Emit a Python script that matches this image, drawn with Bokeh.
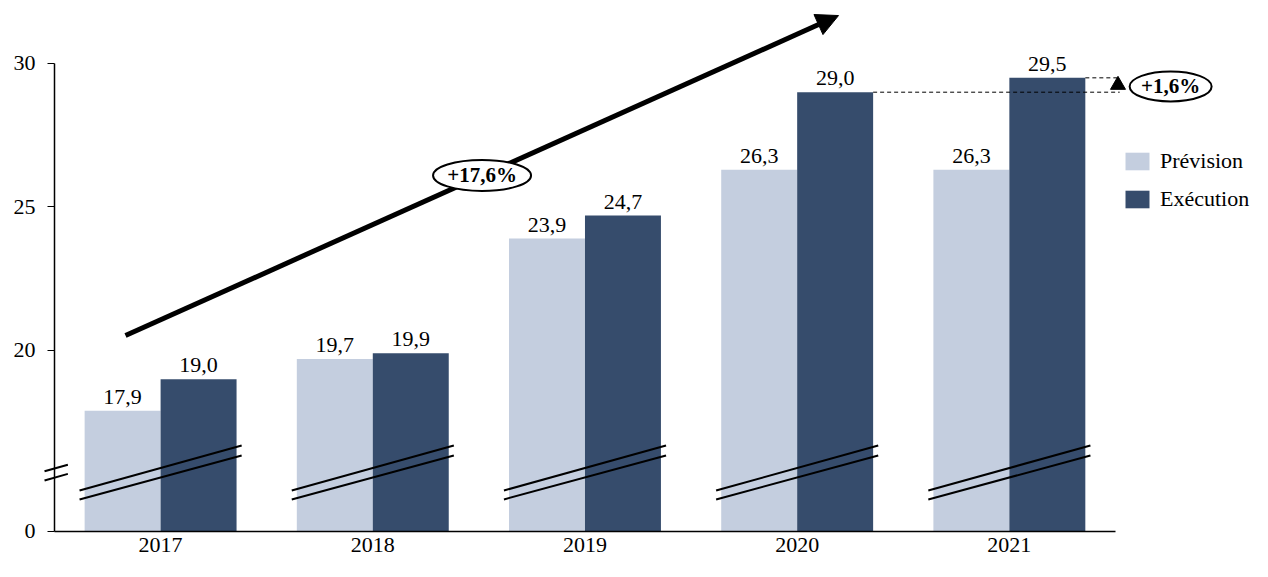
from bokeh.plotting import figure
from bokeh.models import FixedTicker, Arrow, NormalHead, ColumnDataSource
from bokeh.core.properties import value
from bokeh.embed import file_html
from bokeh.resources import INLINE

years = ["2017", "2018", "2019", "2020", "2021"]
prevision = [17.9, 19.7, 23.9, 26.3, 26.3]
execution = [19.0, 19.9, 24.7, 29.0, 29.5]
y_ticks = [20, 25, 30]
growth_label = "+17,6%"
last_label = "+1,6%"

FONT = "Liberation Serif"
C_PREV = "#C4CEDF"
C_EXEC = "#364C6C"
BASE = 13.7          # axis break: bottom of axis shown as "0"
BW = 0.358           # bar width (category units)

def fmt(v):
    return f"{v:.1f}".replace(".", ",")

n = len(years)
centers = [i + 0.5 for i in range(n)]
x_prev = [c - BW / 2 for c in centers]
x_exec = [c + BW / 2 for c in centers]

# both axes are drawn inside the frame (fixed_location) so that the
# axis-break marks and tick labels have room around them
p = figure(width=1262, height=569, x_range=(-0.2545, 5.693), y_range=(12.369, 31.916),
           output_backend="svg", toolbar_location=None,
           min_border_left=0, min_border_right=0, min_border_top=8, min_border_bottom=0)
p.outline_line_color = None
p.grid.visible = False
p.background_fill_color = "white"

# trend arrow (drawn beneath everything else)
arrow = Arrow(end=NormalHead(size=22, fill_color="black", line_color="black"),
              x_start=0.3346, y_start=20.52, x_end=3.695, y_end=31.67,
              line_width=5, line_color="black", level="underlay")
p.add_layout(arrow)

src_p = ColumnDataSource(dict(x=x_prev, top=prevision, lab=[fmt(v) for v in prevision]))
src_e = ColumnDataSource(dict(x=x_exec, top=execution, lab=[fmt(v) for v in execution]))

p.vbar(x="x", top="top", bottom=BASE, width=BW, source=src_p, fill_color=C_PREV,
       line_color=None, legend_label="Prévision")
p.vbar(x="x", top="top", bottom=BASE, width=BW, source=src_e, fill_color=C_EXEC,
       line_color=None, legend_label="Exécution")

for src in (src_p, src_e):
    p.text(x="x", y="top", text="lab", source=src, text_align="center",
           text_baseline="bottom", y_offset=-7, text_font=value(FONT),
           text_font_size="22px", text_color="black")

# break marks over bars and on the axis
hx = 0.382
xs, ys = [], []
for c in centers:
    xs.append([c - hx, c + hx]); ys.append([15.122, 16.69])
    xs.append([c - hx, c + hx]); ys.append([14.81, 16.34])
xs.append([-0.047, 0.063]); ys.append([15.79, 16.02])
xs.append([-0.047, 0.063]); ys.append([15.47, 15.70])
p.multi_line(xs=xs, ys=ys, line_color="black", line_width=2)

p.ellipse(x=[2.015], y=[26.1], width=98, height=31, width_units="screen",
          height_units="screen", fill_color="white", line_color="black", line_width=2)
p.text(x=[2.015], y=[26.1], text=[growth_label], text_align="center",
       text_baseline="middle", text_font=value(FONT), text_font_size="21px",
       text_font_style="bold", text_color="black")

# last-year comparison
xr = 5.02
p.segment(x0=[x_exec[3] + BW / 2, x_exec[4] + BW / 2], y0=[execution[3], execution[4]],
          x1=[xr, xr], y1=[execution[3], execution[4]], line_color="black",
          line_width=1, line_dash="4 3")
p.scatter(x=[5.012], y=[(execution[3] + execution[4]) / 2], marker="triangle",
          size=15, fill_color="black", line_color="black")
p.ellipse(x=[5.26], y=[29.2], width=82, height=30, width_units="screen",
          height_units="screen", fill_color="white", line_color="black", line_width=2)
p.text(x=[5.26], y=[29.2], text=[last_label], text_align="center",
       text_baseline="middle", text_font=value(FONT), text_font_size="21px",
       text_font_style="bold", text_color="black")

# axes
ya = p.yaxis[0]
ya.fixed_location = 0
ya.ticker = FixedTicker(ticks=[BASE] + y_ticks)
ya.major_label_overrides = {BASE: "0"}
ya.bounds = (BASE, 30)
ya.minor_tick_line_color = None
ya.major_tick_out = 7
ya.major_tick_in = 0
ya.major_label_standoff = 12
ya.major_label_text_font = FONT
ya.major_label_text_font_size = "22px"
ya.major_label_text_color = "black"
ya.axis_line_color = "black"
ya.axis_line_width = 1.5

xa = p.xaxis[0]
xa.fixed_location = BASE
xa.ticker = FixedTicker(ticks=centers)
xa.major_label_overrides = {c: y for c, y in zip(centers, years)}
xa.bounds = (0, 5)
xa.minor_tick_line_color = None
xa.major_tick_out = 0
xa.major_tick_in = 0
xa.major_label_standoff = 7
xa.major_label_text_font = FONT
xa.major_label_text_font_size = "22px"
xa.major_label_text_color = "black"
xa.axis_line_color = "black"
xa.axis_line_width = 1.5

lg = p.legend[0]
lg.location = (1122, 357)
lg.border_line_color = None
lg.background_fill_alpha = 0
lg.padding = 0
lg.margin = 0
lg.spacing = 12
lg.glyph_width = 30
lg.glyph_height = 22
lg.label_standoff = 8
lg.label_text_font = FONT
lg.label_text_font_size = "22px"
lg.label_text_color = "black"

open("out.html", "w").write(file_html(p, INLINE))
